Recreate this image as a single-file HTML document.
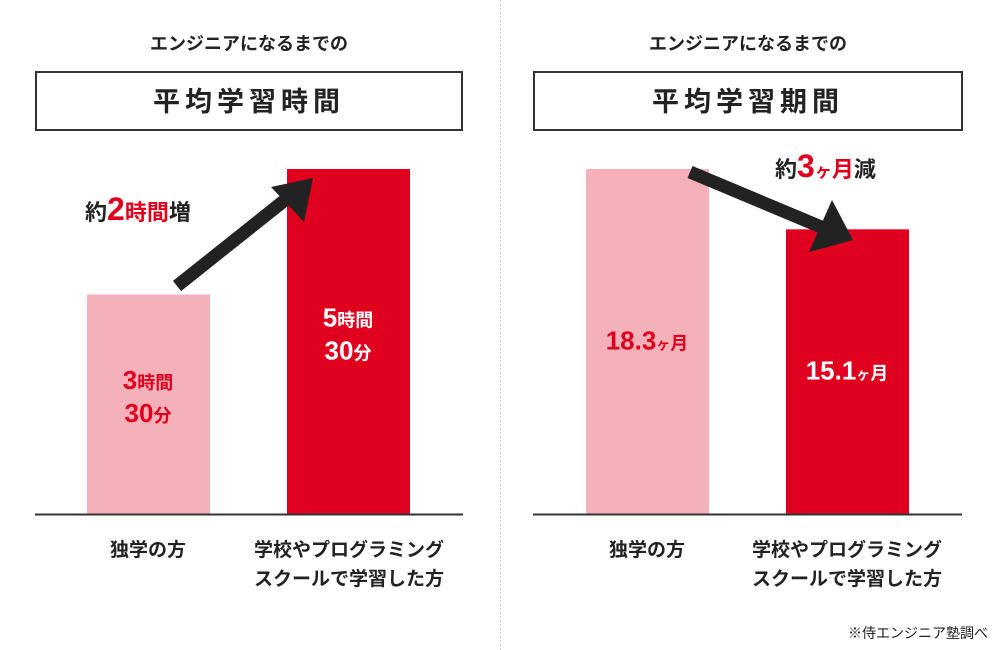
<!DOCTYPE html>
<html><head><meta charset="utf-8"><style>
body{margin:0;background:#fff;}
svg{display:block;font-family:"Liberation Sans","Noto Sans CJK JP",sans-serif;font-weight:bold;}
</style></head><body>
<svg id="c" width="1000" height="650" viewBox="0 0 1000 650">
<line x1="500.5" y1="0" x2="500.5" y2="650" stroke="#ccc" stroke-dasharray="2,2"/>
<text x="249" y="50" font-size="18" text-anchor="middle" fill="#222">エンジニアになるまでの</text>
<rect x="36" y="72" width="426" height="58" fill="#fff" stroke="#333" stroke-width="2"/>
<text x="249" y="111" font-size="27" text-anchor="middle" fill="#222" letter-spacing="5">平均学習時間</text>
<text x="748" y="50" font-size="18" text-anchor="middle" fill="#222">エンジニアになるまでの</text>
<rect x="534" y="72" width="428" height="58" fill="#fff" stroke="#333" stroke-width="2"/>
<text x="748" y="111" font-size="27" text-anchor="middle" fill="#222" letter-spacing="5">平均学習期間</text>
<g id="bars"></g>
<line x1="35" y1="514.5" x2="463" y2="514.5" stroke="#333" stroke-width="2"/>
<line x1="533" y1="514.5" x2="962" y2="514.5" stroke="#333" stroke-width="2"/>
<text x="148" y="556" font-size="19" text-anchor="middle" fill="#222">独学の方</text>
<text x="349" y="556" font-size="19" text-anchor="middle" fill="#222"><tspan x="349">学校やプログラミング</tspan><tspan x="349" dy="29">スクールで学習した方</tspan></text>
<text x="647" y="556" font-size="19" text-anchor="middle" fill="#222">独学の方</text>
<text x="847" y="556" font-size="19" text-anchor="middle" fill="#222"><tspan x="847">学校やプログラミング</tspan><tspan x="847" dy="29">スクールで学習した方</tspan></text>
<line x1="177" y1="286" x2="285" y2="200" stroke="#222" stroke-width="13"/>
<polygon points="313,178 271,187 304,222" fill="#222"/>
<text x="85" y="220" font-size="22" fill="#222">約<tspan fill="#e0001e" font-size="32">2</tspan><tspan fill="#e0001e">時間</tspan>増</text>
<line x1="690" y1="172" x2="826" y2="229" stroke="#222" stroke-width="13"/>
<polygon points="853,240 809,252 832,200" fill="#222"/>
<text x="775" y="177" font-size="22" fill="#222">約<tspan fill="#e0001e" font-size="32">3</tspan><tspan fill="#e0001e" font-size="17">ヶ</tspan><tspan fill="#e0001e">月</tspan>減</text>
<text x="988" y="638" font-size="14" text-anchor="end" fill="#222" font-weight="normal">※侍エンジニア塾調べ</text>
</svg>
<script>
const leftValues=[3.5,5.5];
const rightValues=[18.3,15.1];
const leftLabels=[["3時間","30分"],["5時間","30分"]];
const rightLabels=["18.3","15.1"];
const base=514, maxH=345;
const ns="http://www.w3.org/2000/svg";
const g=document.getElementById('bars');
function yL(v){return base-v/Math.max(...leftValues)*maxH;}
function yR(v){return base-v/Math.max(...rightValues)*maxH;}
const cols=[["#f4b1ba","#e0001e"],["#e0001e","#fff"],];
function bar(x,y,fill,name){const r=document.createElementNS(ns,'rect');r.setAttribute('x',x);r.setAttribute('y',y);r.setAttribute('width',123);r.setAttribute('height',base-y);r.setAttribute('fill',fill);


g.appendChild(r);}
function txt(x,y,html,fill,name){const t=document.createElementNS(ns,'text');t.setAttribute('x',x);t.setAttribute('y',y);t.setAttribute('text-anchor','middle');t.setAttribute('fill',fill);t.setAttribute('font-size','26');t.innerHTML=html;


g.appendChild(t);}
const lx=[87,287], rx=[586,786];
leftValues.forEach((v,i)=>{const y=yL(v);bar(lx[i],y,cols[i][0],'left-bar-'+i);
const ty=(y+base)/2;const lb=leftLabels[i];
txt(lx[i]+61,ty-15,lb[0].replace(/(\d+)(.*)/,'$1<tspan font-size="18">$2</tspan>'),cols[i][1],'left-value-'+i);
txt(lx[i]+61,ty+18,lb[1].replace(/(\d+)(.*)/,'$1<tspan font-size="18">$2</tspan>'),cols[i][1],'left-value2-'+i);});
rightValues.forEach((v,i)=>{const y=yR(v);bar(rx[i],y,cols[i][0],'right-bar-'+i);
const ty=(y+base)/2+8;
txt(rx[i]+61,ty,rightLabels[i]+'<tspan font-size="14">ヶ</tspan><tspan font-size="18">月</tspan>',cols[i][1],'right-value-'+i);});
</script>
</body></html>
